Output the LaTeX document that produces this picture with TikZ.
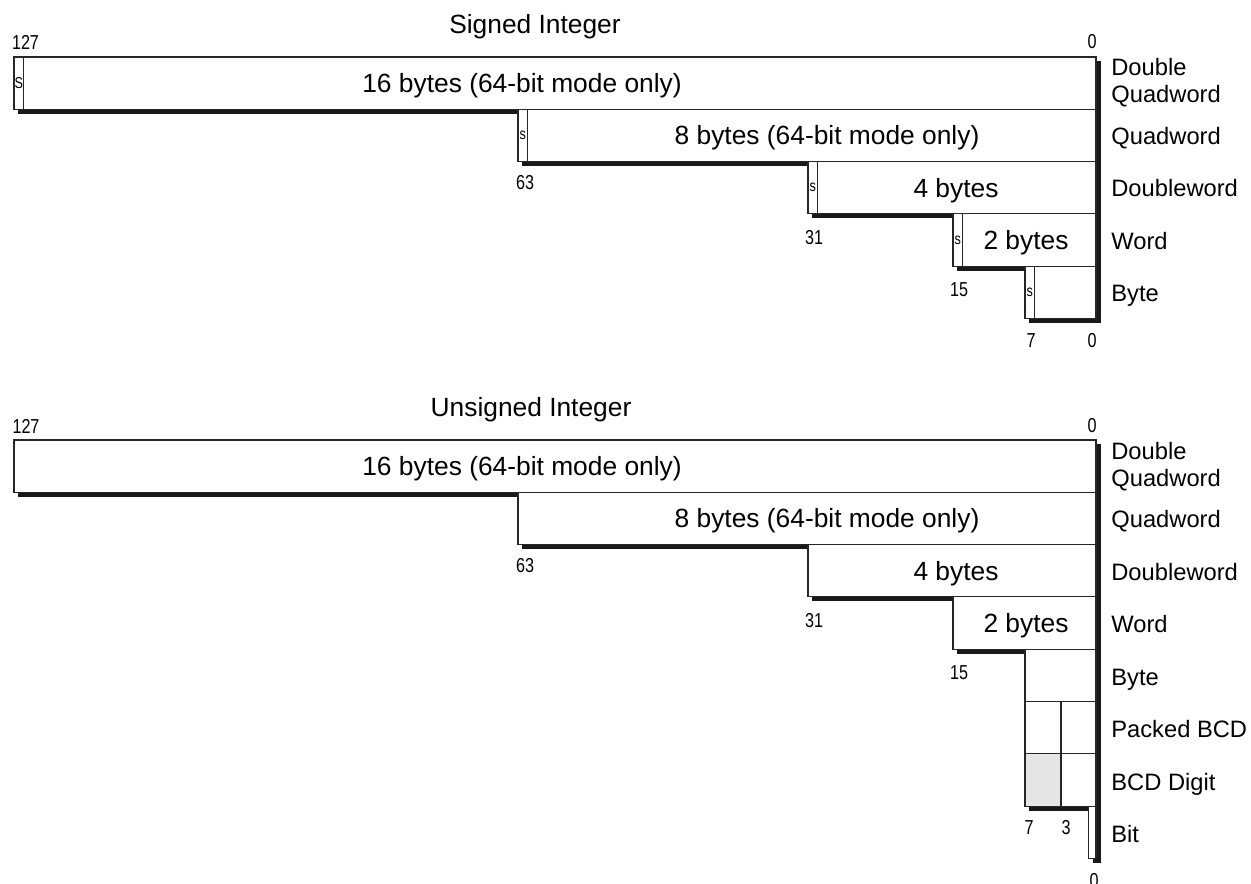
\documentclass[tikz,border=0pt]{standalone}
\usepackage{fontspec}
\setmainfont{Liberation Sans}
\newfontfamily\numfont[FakeStretch=0.8]{Liberation Sans}
\usepackage{xcolor}
\usepackage{tikz}
\definecolor{bcdgray}{RGB}{229,229,229}
\tikzset{
  cell/.style={draw=black!85, line width=0.6pt},
  shade/.style={draw=black!90, line width=2.3pt},
  heading/.style={font=\fontsize{15}{18}\selectfont, inner sep=0pt, text height=10.7pt, text depth=0pt},
  boxtext/.style={font=\fontsize{15}{18}\selectfont, inner sep=0pt, text height=10.7pt, text depth=0pt},
  wordname/.style={font=\fontsize{13.5}{15.3}\selectfont, anchor=west, inner sep=0pt, text height=9.7pt, text depth=0pt},
  dqname/.style={font=\fontsize{13.5}{15.3}\selectfont, anchor=west, inner sep=0pt, align=left},
  bitno/.style={font=\numfont\fontsize{11.5}{13}\selectfont, inner sep=0pt, text height=8.2pt, text depth=0pt},
  signbit/.style={font=\numfont\fontsize{9}{10}\selectfont, inner sep=0pt}
}
\begin{document}
\begin{tikzpicture}[x=0.02cm, y=-0.02cm]
    \useasboundingbox (0,0) rectangle (1251,884);
    % signed integers
    \node[heading] (stitle) at (535,24) {Signed Integer};
    \foreach \lx/\nx/\sg/\txt/\tx [count=\i] in {
        14/518/S/16 bytes (64-bit mode only)/522,
        518/808/s/8 bytes (64-bit mode only)/827,
        808/953/s/4 bytes/956,
        953/1025/s/2 bytes/1026}{
        \pgfmathsetmacro{\yt}{57+52.3*(\i-1)}
        \pgfmathsetmacro{\yb}{\yt+52.3}
        \draw[cell] (\lx,\yt) rectangle (1096,\yb);
        \draw[cell] (\lx,\yt) rectangle ++(9.5,52.3);
        \node[signbit] (sg\i) at (\lx+4.75,\yt+26.15) {\sg};
        \node[boxtext] (ssz\i) at (\tx,\yt+26.15) {\txt};
        \draw[shade] (\lx+4,\yb+2.5) -- (\nx,\yb+2.5);
    }
    \draw[cell] (1025,266.2) rectangle (1096,318.5);
    \draw[cell] (1025,266.2) rectangle ++(9.5,52.3);
    \node[signbit] (sg5) at (1029.75,292.35) {s};
    \draw[shade] (1029,321) -- (1099,321);
    \draw[shade] (1099,61) -- (1099,323);
    % bit numbers
    \node[bitno] (s127) at (25.5,42.5) {127};
    \node[bitno] (s0a) at (1092,41) {0};
    \node[bitno] (s63) at (525,182) {63};
    \node[bitno] (s31) at (814,237) {31};
    \node[bitno] (s15) at (959,289) {15};
    \node[bitno] (s7) at (1031,340) {7};
    \node[bitno] (s0b) at (1092,340) {0};
    % names
    \node[dqname] (sdq) at (1111,82.5) {Double\\Quadword};
    \node[wordname] (sqw) at (1111,135.5) {Quadword};
    \node[wordname] (sdw) at (1111,188) {Doubleword};
    \node[wordname] (sw) at (1111,240.5) {Word};
    \node[wordname] (sb) at (1111,293) {Byte};

    % unsigned integers
    \node[heading] (utitle) at (531,407.5) {Unsigned Integer};
    \foreach \lx/\nx/\txt/\tx [count=\i] in {
        14/518/16 bytes (64-bit mode only)/522,
        518/808/8 bytes (64-bit mode only)/827,
        808/953/4 bytes/956,
        953/1025/2 bytes/1026}{
        \pgfmathsetmacro{\yt}{440+52.3*(\i-1)}
        \pgfmathsetmacro{\yb}{\yt+52.3}
        \draw[cell] (\lx,\yt) rectangle (1096,\yb);
        \node[boxtext] (usz\i) at (\tx,\yt+26.15) {\txt};
        \draw[shade] (\lx+4,\yb+2.5) -- (\nx,\yb+2.5);
    }
    \draw[cell] (1025,649.2) rectangle (1096,701.5);
    \draw[cell] (1025,701.5) rectangle (1061,753.8);
    \draw[cell] (1061,701.5) rectangle (1096,753.8);
    \draw[cell, fill=bcdgray] (1025,753.8) rectangle (1061,806.1);
    \draw[cell] (1061,753.8) rectangle (1096,806.1);
    \draw[shade] (1029,808.6) -- (1088.5,808.6);
    \draw[cell] (1088.5,806.1) rectangle (1096,858.4);
    \draw[shade] (1092.5,860.9) -- (1099,860.9);
    \draw[shade] (1099,444) -- (1099,863);
    % bit numbers
    \node[bitno] (u127) at (26,426) {127};
    \node[bitno] (u0a) at (1092,425) {0};
    \node[bitno] (u63) at (525,565) {63};
    \node[bitno] (u31) at (814,620) {31};
    \node[bitno] (u15) at (959,672) {15};
    \node[bitno] (u7) at (1029,827) {7};
    \node[bitno] (u3) at (1066,827) {3};
    \node[bitno] (u0b) at (1094,880) {0};
    % names
    \node[dqname] (udq) at (1111,466.5) {Double\\Quadword};
    \node[wordname] (uqw) at (1111,519) {Quadword};
    \node[wordname] (udw) at (1111,571.5) {Doubleword};
    \node[wordname] (uw) at (1111,624) {Word};
    \node[wordname] (ub) at (1111,676.5) {Byte};
    \node[wordname] (upb) at (1111,729) {Packed BCD};
    \node[wordname] (ubd) at (1111,781.5) {BCD Digit};
    \node[wordname] (ubit) at (1111,834) {Bit};
\end{tikzpicture}
\end{document}
